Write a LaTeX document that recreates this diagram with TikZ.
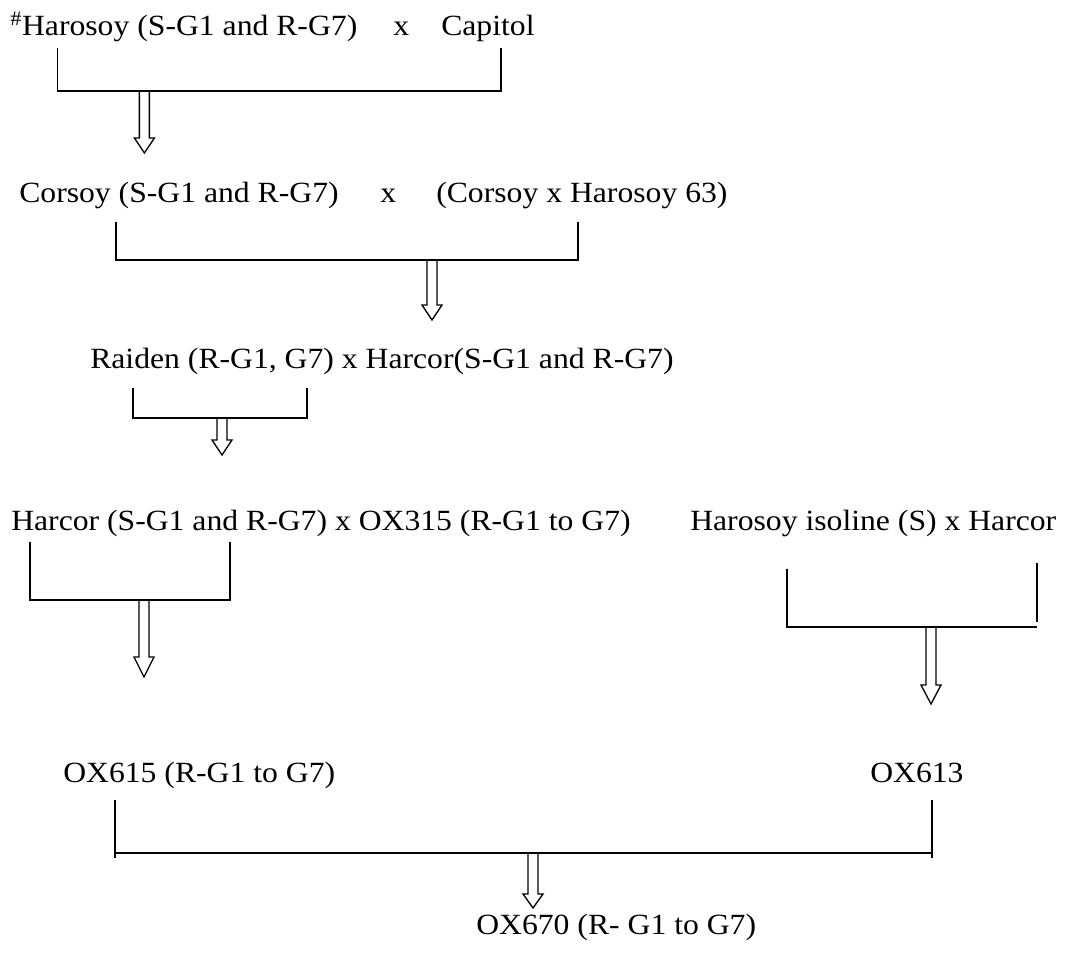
\documentclass[tikz,border=0pt]{standalone}
\usepackage{fontspec}
\setmainfont{Liberation Serif}
\newcommand{\BlkArr}[4]{%
  \draw[arr] (#1-5,#2) -- (#1-5,#3) -- (#1-10,#3) -- (#1,#4) -- (#1+10,#3) -- (#1+5,#3) -- (#1+5,#2);}
\tikzset{
  txt/.style={inner sep=0pt, anchor=base west, font=\fontsize{22pt}{26pt}\selectfont, xscale=1.08},
  ln/.style={line width=1pt},
  arr/.style={line width=1pt, line join=miter}
}
\begin{document}
\begin{tikzpicture}[x=0.75pt,y=-0.75pt]
\useasboundingbox (0,0) rectangle (1068,955);
% texts
\node[txt] (p1) at (10,36) {\textsuperscript{\#}Harosoy (S-G1 and R-G7)};
\node[txt] (x1) at (393,36) {x};
\node[txt] (p2) at (441,36) {Capitol};
\node[txt] (c1) at (19,203) {Corsoy (S-G1 and R-G7)};
\node[txt] (x2) at (380,203) {x};
\node[txt] (c2) at (436,203) {(Corsoy x Harosoy 63)};
\node[txt] (r1) at (90,369) {Raiden (R-G1, G7) x Harcor(S-G1 and R-G7)};
\node[txt] (h1) at (11,531) {Harcor (S-G1 and R-G7) x OX315 (R-G1 to G7)};
\node[txt] (h2) at (690,531) {Harosoy isoline (S) x Harcor};
\node[txt] (o1) at (63,782) {OX615 (R-G1 to G7)};
\node[txt] (o2) at (870,782) {OX613};
\node[txt] (o3) at (476,934) {OX670 (R- G1 to G7)};
% brackets
\draw[ln] (57.8,48) |- (501,91) -- (501,48);
\draw[ln] (116,222) |- (578,260) -- (578,222);
\draw[ln] (133,388) |- (307,418) -- (307,388);
\draw[ln] (30,542) |- (230,600) -- (230,542);
\draw[ln] (787,569) |- (1037,627);
\draw[ln] (1037,563) -- (1037,622);
\draw[ln] (115,800) -- (115,858);
\draw[ln] (932,800) -- (932,858);
\draw[line width=1.6pt] (115,853) -- (932,853);
% block arrows
\BlkArr{144.4}{91}{138}{153}
\BlkArr{432}{260}{305}{320}
\BlkArr{222}{418}{440}{455}
\BlkArr{144}{600}{657}{677}
\BlkArr{931}{627}{685}{704}
\BlkArr{533}{853}{894}{908}
\end{tikzpicture}
\end{document}
